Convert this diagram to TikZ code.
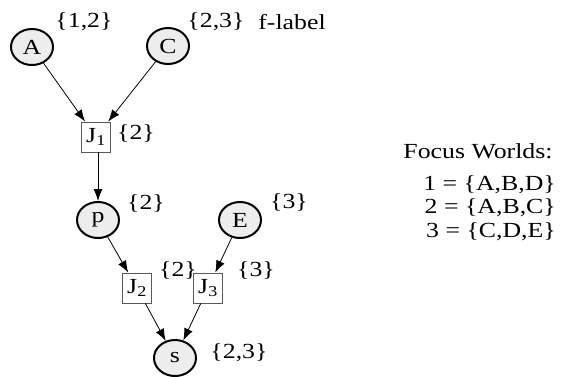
\documentclass[tikz,border=0pt]{standalone}
\usepackage{fontspec}
\setmainfont[FakeStretch=1.2]{Liberation Serif}
\usetikzlibrary{arrows.meta,shapes.geometric}

\tikzset{
  var/.style={ellipse, draw, line width=2pt, fill=black!7, minimum width=42pt, minimum height=36pt, inner sep=0pt},
  jnode/.style={rectangle, draw=black!65, line width=0.8pt, minimum width=29pt, minimum height=30pt, inner sep=0pt},
  flab/.style={inner sep=0pt},
  link/.style={-{Latex[length=12pt,width=9pt]}, line width=0.8pt},
}

\begin{document}
\begin{tikzpicture}[x=1pt, y=-1pt, font=\fontsize{21.5}{24}\selectfont]
  \useasboundingbox (0,0) rectangle (562,376);

  \node [var] (A) at (32,47) {A};
  \node [var] (C) at (168,46) {C};
  \node [jnode] (J1) at (96,137) {J\textsubscript{1}};
  \node [var] (p) at (98,220) {p};
  \node [var] (E) at (240,220) {E};
  \node [jnode] (J2) at (137,288) {J\textsubscript{2}};
  \node [jnode] (J3) at (208,288) {J\textsubscript{3}};
  \node [var] (s) at (175,358) {s};

  \node [flab] (lA) at (84,22) {\{1,2\}};
  \node [flab] (lC) at (216,22) {\{2,3\}};
  \node [flab] (flabel) at (292,22) {f-label};
  \node [flab] (lJ1) at (136,133) {\{2\}};
  \node [flab] (lp) at (146,203) {\{2\}};
  \node [flab] (lE) at (289,202) {\{3\}};
  \node [flab] (lJ2) at (178,270) {\{2\}};
  \node [flab] (lJ3) at (256,270) {\{3\}};
  \node [flab] (ls) at (239,353) {\{2,3\}};

  \node [flab] (focus) at (478,151) {Focus Worlds:};
  \node [flab, anchor=east] (w1) at (556,185) {1 = \{A,B,D\}};
  \node [flab, anchor=east] (w2) at (556,208) {2 = \{A,B,C\}};
  \node [flab, anchor=east] (w3) at (556,232) {3 = \{C,D,E\}};

  \draw [link] (A) -- (J1);
  \draw [link] (C) -- (J1);
  \draw [link] (J1.south -| p.north) -- (p);
  \draw [link] (p) -- (J2);
  \draw [link] (E) -- (J3);
  \draw [link] (J2) -- (s);
  \draw [link] (J3) -- (s);
\end{tikzpicture}
\end{document}
